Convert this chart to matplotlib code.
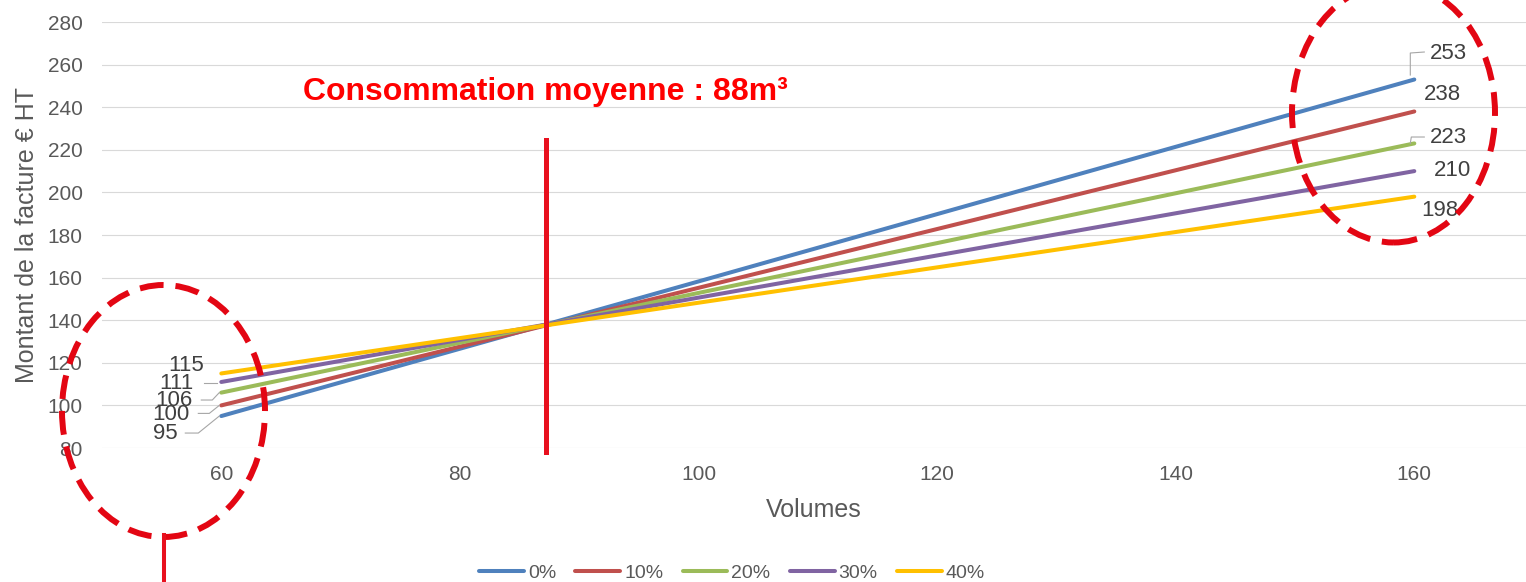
import numpy as np
import matplotlib.pyplot as plt
from matplotlib.patches import Ellipse
from matplotlib.lines import Line2D
from matplotlib.transforms import IdentityTransform

plt.rcParams['font.family'] = ['Liberation Sans', 'DejaVu Sans']

W, H = 1526, 582  # taille de l'image en pixels

# données du graphique
volumes = [60, 160]
series = ['0%', '10%', '20%', '30%', '40%']
montant_60 = [95, 100, 106, 111, 115]
montant_160 = [253, 238, 223, 210, 198]
couleurs = ['#4f81bd', '#c0504d', '#9bbb59', '#8064a2', '#ffc000']
conso_moyenne = 88
x_repere = 87.2  # position du trait rouge vertical
y_ticks = list(range(80, 281, 20))
x_ticks = [60, 80, 100, 120, 140, 160]

# placement des étiquettes (décalage en pixels par rapport au point)
decal_g = [(-56, -17), (-50, -8.6), (-47, -7.4), (-45, -2), (-35, 7.5)]
decal_d = [(34, 26.5), (28, 16.5), (34, 6.4), (38, 1), (26, -14.3)]
# lignes de rappel (pixels, relatif au point)
rappel_g = [[(-36, -17), (-23, -17), (-2, 0)],
            [(-23, -8), (-12, -8), (-2, 0)],
            [(-20, -7.4), (-9, -7.4), (-2, 0)],
            [(-17, -1), (-4, -1)],
            None]
rappel_d = [[(-4, 4.5), (-4, 26.5), (10, 27.5)],
            None,
            [(-4, 0), (-3, 6.4), (10, 6.4)],
            None,
            None]

gris = '#595959'

fig = plt.figure(figsize=(W / 100, H / 100), dpi=100)
ax = fig.add_axes([102 / W, 1 - 448 / H, (W - 102) / W, 426 / H])

for i in range(len(series)):
    ax.plot(volumes, [montant_60[i], montant_160[i]], color=couleurs[i],
            lw=2.9, solid_capstyle='round', label=series[i], zorder=3)

ax.set_xlim(50, 50 + (W - 102) / 11.93)
ax.set_ylim(80, 280)
ax.set_xticks(x_ticks)
ax.set_yticks(y_ticks)
ax.tick_params(axis='both', length=0, labelsize=15, labelcolor=gris)
ax.tick_params(axis='x', pad=12)
ax.tick_params(axis='y', pad=14)
for s in ax.spines.values():
    s.set_visible(False)
ax.grid(axis='y', color='#d9d9d9', lw=0.8)
ax.set_axisbelow(True)

ax.set_ylabel('Montant de la facture € HT', fontsize=18, color=gris, va='center')
ax.yaxis.set_label_coords((27 - 102) / (W - 102), 0.5)
ax.set_xlabel('Volumes', fontsize=18, color=gris, va='center')
ax.xaxis.set_label_coords(0.5, (448 - 510) / 426)

# trait vertical de la consommation moyenne
ax.plot([x_repere, x_repere], [78, 224.6], color='#e8101e', lw=3.6,
        clip_on=False, zorder=4)

fig.text(303 / W, 1 - 100 / H, f'Consommation moyenne : {conso_moyenne}m³',
         color='#ff0000', fontsize=23, fontweight='bold', va='baseline')

# étiquettes de données
for i in range(len(series)):
    for x, v, d, r in [(volumes[0], montant_60[i], decal_g[i], rappel_g[i]),
                       (volumes[1], montant_160[i], decal_d[i], rappel_d[i])]:
        ax.annotate(str(v), xy=(x, v), xytext=d, textcoords='offset pixels',
                    ha='center', va='center', fontsize=16, color='#404040',
                    annotation_clip=False)
        if r:
            px, py = ax.transData.transform((x, v))
            xs = [px + a for a, b in r]
            ys = [py + b for a, b in r]
            fig.add_artist(Line2D(xs, ys, color='#a6a6a6', lw=0.8,
                                  transform=IdentityTransform()))

# cercles en pointillés
for cx, cy, w, h in [(163.5, 411, 203, 252), (1393.5, 113, 203, 259)]:
    fig.add_artist(Ellipse((cx / W, 1 - cy / H), w / W, h / H, fill=False,
                           edgecolor='#e30613', lw=4.3, linestyle=(0, (4, 2)),
                           transform=fig.transFigure))
fig.add_artist(Line2D([164 / W, 164 / W], [1 - 535 / H, 0], color='#e8101e',
                      lw=2.9, transform=fig.transFigure))

fig.legend(loc='center', bbox_to_anchor=(732 / W, 1 - 573 / H), ncol=5,
           frameon=False, fontsize=14, labelcolor=gris, handlelength=2.3,
           handletextpad=0.2, columnspacing=1.0)

fig.savefig('out.png', dpi=100)
